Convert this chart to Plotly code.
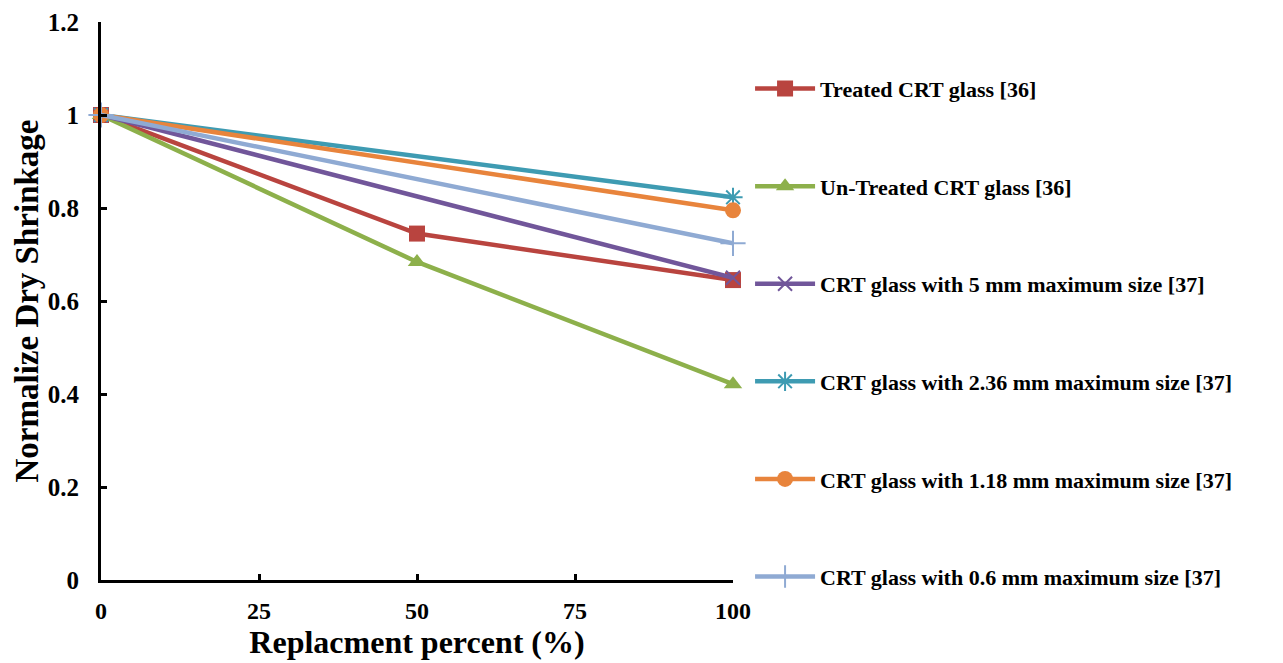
import plotly.graph_objects as go

names = ["Treated CRT glass [36]", "Un-Treated CRT glass [36]",
         "CRT glass with 5 mm maximum size [37]", "CRT glass with 2.36 mm maximum size [37]",
         "CRT glass with 1.18 mm maximum size [37]", "CRT glass with 0.6 mm maximum size [37]"]
x_three = [0, 50, 100]
x_two = [0, 100]
treated = [1.0, 0.745, 0.645]
untreated = [1.0, 0.684, 0.421]
mm5 = [1.0, 0.650]
mm236 = [1.0, 0.823]
mm118 = [1.0, 0.795]
mm06 = [1.0, 0.724]
x_ticks = [0, 25, 50, 75, 100]
y_ticks = [0, 0.2, 0.4, 0.6, 0.8, 1, 1.2]
y_ticktext = ["0", "0.2", "0.4", "0.6", "0.8", "1", "1.2"]

xs = [x_three, x_three, x_two, x_two, x_two, x_two]
ys = [treated, untreated, mm5, mm236, mm118, mm06]
colors = ["#B9443F", "#8DB04B", "#71569A", "#3E9BB2", "#E8843C", "#8FAAD3"]
symbols = ["square", "triangle-up", "x-thin", "asterisk", "circle", "cross-thin"]
sizes = [16, 16, 14, 16, 16, 18]

fig = go.Figure()
for i in range(6):
    thin = symbols[i] in ("x-thin", "asterisk", "cross-thin")
    fig.add_trace(go.Scatter(
        x=xs[i], y=ys[i], name=names[i], mode="lines+markers",
        legendgroup=str(i), cliponaxis=False,
        line=dict(color=colors[i], width=4.5),
        marker=dict(symbol=symbols[i], size=sizes[i], color=colors[i],
                    line=dict(color=colors[i], width=2 if thin else 0)),
    ))

ff = "Liberation Serif, Times New Roman, serif"
fig.update_layout(
    width=1275, height=655,
    paper_bgcolor="white", plot_bgcolor="white",
    margin=dict(l=93, r=550, t=14, b=83),
    font=dict(family=ff, size=22, color="black"),
    showlegend=True,
    legend=dict(x=1.027, xanchor="left", y=0.918, yanchor="top",
                font=dict(family=ff, size=22, color="black", weight="bold"),
                tracegroupgap=66, itemwidth=60),
    xaxis=dict(range=[0, 100], tickvals=x_ticks, automargin=False,
               showgrid=False, zeroline=False, showline=True, linecolor="black", linewidth=3,
               ticks="inside", ticklen=6, tickwidth=3, tickcolor="black",
               ticklabelstandoff=7,
               tickfont=dict(family=ff, size=24, weight="bold"),
               title=dict(text="Replacment percent (%)", standoff=0,
                          font=dict(family=ff, size=32, weight="bold"))),
    yaxis=dict(range=[0, 1.2], tickvals=y_ticks, ticktext=y_ticktext, automargin=False,
               showgrid=False, zeroline=False, showline=True, linecolor="black", linewidth=3,
               ticks="inside", ticklen=6, tickwidth=3, tickcolor="black",
               ticklabelstandoff=14,
               tickfont=dict(family=ff, size=25, weight="bold"),
               title=dict(text="Normalize Dry Shrinkage", standoff=0,
                          font=dict(family=ff, size=33, weight="bold"))),
)

fig.write_html("out.html")
